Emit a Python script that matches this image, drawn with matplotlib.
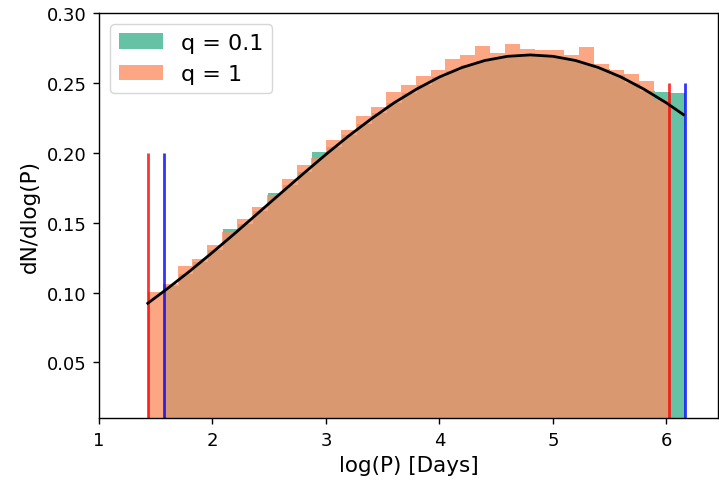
import numpy as np
import matplotlib.pyplot as plt

# period ranges (log days) for the two mass ratios
range_q1 = (1.43, 6.02)
range_q01 = (1.57, 6.16)
n_bins = 35

# normalised histogram heights, q = 1
dens_q1 = [0.1004, 0.106, 0.119, 0.124, 0.1338, 0.143, 0.1524, 0.1614, 0.1695,
           0.1814, 0.1909, 0.196, 0.2088, 0.2166, 0.2266, 0.2329, 0.2433, 0.2483,
           0.2552, 0.259, 0.2671, 0.2702, 0.2766, 0.2712, 0.2779, 0.274, 0.2738,
           0.2735, 0.2702, 0.2755, 0.2638, 0.259, 0.2566, 0.2512, 0.238]

# normalised histogram heights, q = 0.1
dens_q01 = [0.1048, 0.1132, 0.1218, 0.1307, 0.1457, 0.1489, 0.1582, 0.1714,
            0.1769, 0.1861, 0.2004, 0.2040, 0.2125, 0.2207, 0.2285, 0.2358,
            0.2425, 0.2486, 0.2540, 0.2587, 0.2626, 0.2657, 0.2680, 0.2694,
            0.2700, 0.2697, 0.2685, 0.2665, 0.2636, 0.2599, 0.2554, 0.2502,
            0.2443, 0.2433, 0.243]

# log-normal period distribution
model_logp = [1.43, 1.6, 1.8, 2.0, 2.2, 2.4, 2.6, 2.8, 3.0, 3.2, 3.4, 3.6, 3.8,
              4.0, 4.2, 4.4, 4.6, 4.8, 5.0, 5.2, 5.4, 5.6, 5.8, 6.0, 6.15]
model_dens = [0.0923, 0.1026, 0.1153, 0.1287, 0.1425, 0.1567, 0.1709, 0.1850,
              0.1988, 0.2120, 0.2243, 0.2357, 0.2456, 0.2542, 0.2610, 0.2660,
              0.2690, 0.2700, 0.2690, 0.2660, 0.2610, 0.2542, 0.2456, 0.2357,
              0.2273]

# limits marked by vertical lines
lim_q1 = [1.43, 6.02]
lim_q01 = [1.57, 6.16]
lim_heights = [0.20, 0.25]

fig = plt.figure(figsize=(7.19, 4.85), dpi=100)
ax = fig.add_axes([99 / 719, 1 - 419 / 485, 619 / 719, 405 / 485])

edges_q01 = np.linspace(range_q01[0], range_q01[1], n_bins + 1)
edges_q1 = np.linspace(range_q1[0], range_q1[1], n_bins + 1)

ax.bar(edges_q01[:-1], dens_q01, width=np.diff(edges_q01), align='edge',
       color='#66c2a5', linewidth=0, label='q = 0.1')
ax.bar(edges_q1[:-1], dens_q1, width=np.diff(edges_q1), align='edge',
       color='#fc8d62', alpha=0.78, linewidth=0, label='q = 1')

ax.vlines(lim_q1, 0, lim_heights, color='r', alpha=0.8, lw=2)
ax.vlines(lim_q01, 0, lim_heights, color='b', alpha=0.8, lw=2)

ax.plot(model_logp, model_dens, color='k', lw=2)

ax.set_xlim(1, 6.455)
ax.set_ylim(0.0102, 0.30)
ax.set_yticks([0.05, 0.10, 0.15, 0.20, 0.25, 0.30])
ax.set_xticks([1, 2, 3, 4, 5, 6])
ax.tick_params(labelsize=13, length=4.5, width=1.0, pad=4.5)
for sp in ax.spines.values():
    sp.set_linewidth(1.0)
ax.set_xlabel('log(P) [Days]', fontsize=15.5, labelpad=5)
ax.set_ylabel('dN/dlog(P)', fontsize=15.5, labelpad=5)
ax.legend(loc='upper left', fontsize=16)

plt.savefig('out.png', dpi=100)
